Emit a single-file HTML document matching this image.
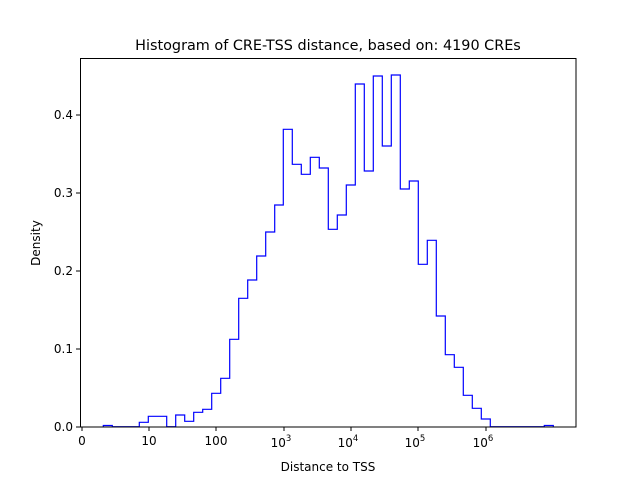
<!DOCTYPE html>
<html><head><style>body{margin:0;background:#fff}svg{display:block}text{font-family:"DejaVu Sans","Liberation Sans",sans-serif;fill:#000}</style></head>
<body>
<svg width="640" height="480" viewBox="0 0 640 480">
<rect width="640" height="480" fill="#fff"/>
<path d="M103.3,426.7 V425.5 H112.3 V426.7 H139.3 V422.3 H148.3 V416.3 H166.7 V426.7 H175.7 V415 H184.7 V421.3 H193.7 V412.3 H202.7 V409.3 H211.7 V393.3 H220.7 V378.3 H229.7 V339.3 H238.7 V298.3 H247.7 V280 H256.7 V256 H265.7 V232 H274.7 V205 H283.3 V129.3 H292.3 V164.3 H301.3 V174.3 H310.3 V157.3 H319.3 V168 H328.3 V229.3 H337.3 V215 H346.3 V185 H355.3 V84 H364.3 V171 H373.3 V76 H382.3 V146 H391.3 V75 H400.3 V189 H409.3 V181 H418.3 V264.3 H427.3 V240.3 H436.3 V316 H445.3 V354.7 H454.3 V367.3 H463.3 V395.3 H472.3 V408.3 H481.3 V419 H490.3 V426.7 H544.3 V425.5 H553.3 V426.7" fill="none" stroke="#0000ff" stroke-width="1.2"/>
<rect x="80.5" y="58.5" width="495.5" height="368.5" fill="none" stroke="#000" stroke-width="1"/>
<g stroke="#000" stroke-width="1">
<line x1="82" y1="427" x2="82" y2="431"/><line x1="149" y1="427" x2="149" y2="431"/><line x1="216" y1="427" x2="216" y2="431"/><line x1="284" y1="427" x2="284" y2="431"/><line x1="351" y1="427" x2="351" y2="431"/><line x1="418" y1="427" x2="418" y2="431"/><line x1="486" y1="427" x2="486" y2="431"/>
<line x1="76" y1="427" x2="80" y2="427"/><line x1="76" y1="349" x2="80" y2="349"/><line x1="76" y1="271" x2="80" y2="271"/><line x1="76" y1="193" x2="80" y2="193"/><line x1="76" y1="115" x2="80" y2="115"/>
</g>
<g font-size="12" text-anchor="middle">
<text x="82" y="445">0</text><text x="149" y="445">10</text><text x="216" y="445">100</text>
<text x="281" y="447">10<tspan font-size="8.5" dy="-6">3</tspan></text>
<text x="348" y="447">10<tspan font-size="8.5" dy="-6">4</tspan></text>
<text x="415" y="447">10<tspan font-size="8.5" dy="-6">5</tspan></text>
<text x="483" y="447">10<tspan font-size="8.5" dy="-6">6</tspan></text>
<text x="328" y="471">Distance to TSS</text>
</g>
<g font-size="12" text-anchor="end">
<text x="73" y="431">0.0</text><text x="73" y="353">0.1</text><text x="73" y="275">0.2</text><text x="73" y="197">0.3</text><text x="73" y="119">0.4</text>
</g>
<text x="40" y="243" font-size="12" text-anchor="middle" transform="rotate(-90 40 243)">Density</text>
<text x="328" y="50" font-size="14.4" text-anchor="middle">Histogram of CRE-TSS distance, based on: 4190 CREs</text>
</svg>
</body></html>
